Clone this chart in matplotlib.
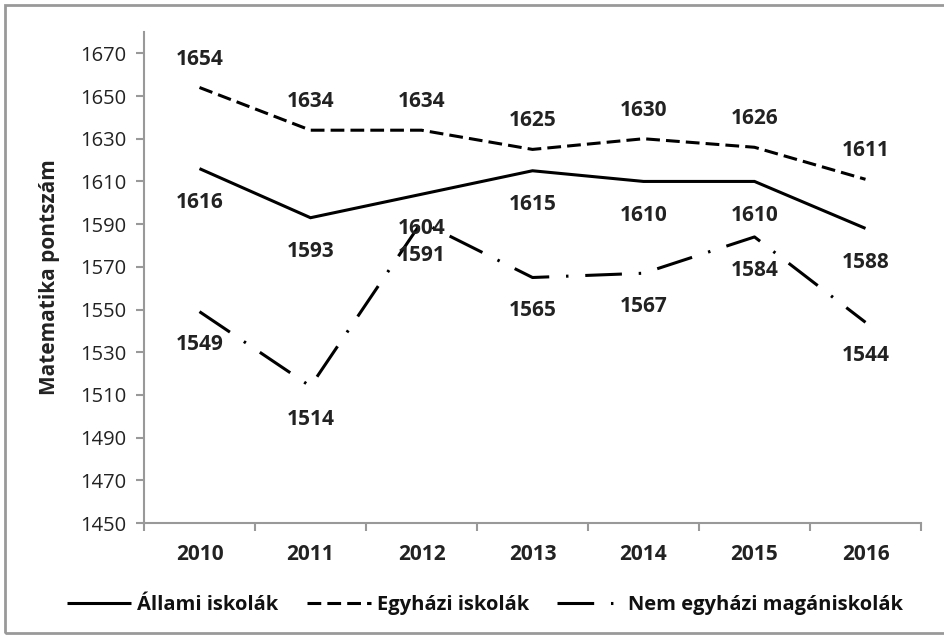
import matplotlib
matplotlib.use("Agg")
import matplotlib.pyplot as plt
from matplotlib.patches import Rectangle

years = ["2010", "2011", "2012", "2013", "2014", "2015", "2016"]
allami = [1616, 1593, 1604, 1615, 1610, 1610, 1588]
egyhazi = [1654, 1634, 1634, 1625, 1630, 1626, 1611]
nem_egyhazi = [1549, 1514, 1591, 1565, 1567, 1584, 1544]
series_names = ["Állami iskolák", "Egyházi iskolák", "Nem egyházi magániskolák"]
y_ticks = list(range(1450, 1671, 20))

plt.rcParams['font.family'] = ['Open Sans', 'DejaVu Sans']

W, H = 945, 638
fig = plt.figure(figsize=(W / 100, H / 100), dpi=100)
ax = fig.add_axes([144 / W, 1 - 523 / H, (921 - 144) / W, (523 - 32) / H])

x = list(range(len(years)))
lw = 2.2
ax.plot(x, allami, color="black", lw=lw, linestyle="-", label=series_names[0],
        solid_capstyle="butt", solid_joinstyle="miter")
ax.plot(x, egyhazi, color="black", lw=lw, linestyle=(0, (4.5, 2)), label=series_names[1],
        dash_capstyle="butt")
ax.plot(x, nem_egyhazi, color="black", lw=lw, linestyle=(0, (12, 5.5, 0.8, 5.5)),
        label=series_names[2], dash_capstyle="butt")

fs = 15
lab_kw = dict(ha="center", va="center", fontsize=fs, fontweight="bold",
              color="#222222", textcoords="offset points")
for i, v in enumerate(allami):
    ax.annotate(str(v), (i, v), xytext=(0, -24.5), **lab_kw)
for i, v in enumerate(egyhazi):
    ax.annotate(str(v), (i, v), xytext=(0, 20.5), **lab_kw)
for i, v in enumerate(nem_egyhazi):
    ax.annotate(str(v), (i, v), xytext=(0, -24), **lab_kw)

ax.set_xlim(-0.5, len(years) - 0.5)
ax.set_ylim(1450, 1680)
ax.set_yticks(y_ticks)
ax.set_yticklabels([str(t) for t in y_ticks], fontsize=14.5, color="#222222")
ax.set_xticks(x)
ax.set_xticklabels(years, fontsize=fs, fontweight="bold", color="#222222")
ax.set_xticks([i - 0.5 for i in range(len(years) + 1)], minor=True)
ax.tick_params(axis="x", which="major", length=0, pad=15)
ax.tick_params(axis="x", which="minor", length=6, width=1.5, color="#999999", direction="out")
ax.tick_params(axis="y", length=6, width=1.5, color="#999999", direction="out", pad=7)

for s in ["top", "right"]:
    ax.spines[s].set_visible(False)
for s in ["left", "bottom"]:
    ax.spines[s].set_color("#999999")
    ax.spines[s].set_linewidth(1.5)

ax.set_ylabel("Matematika pontszám", fontsize=fs, fontweight="bold", color="#222222")
ax.yaxis.set_label_coords(-0.108, 0.5)

leg = fig.legend(loc="center", bbox_to_anchor=(0.513, 1 - 605 / H), ncol=3, frameon=False,
                 handlelength=3.2, handletextpad=0.3, columnspacing=1.4,
                 prop={"size": 14.5, "weight": "bold"})
for t in leg.get_texts():
    t.set_color("#111111")

fig.patches.append(Rectangle((5 / W, 5 / H), 1.0, 1 - 10 / H, transform=fig.transFigure,
                             fill=False, edgecolor="#999999", lw=2))

fig.savefig("out.png", dpi=100)
